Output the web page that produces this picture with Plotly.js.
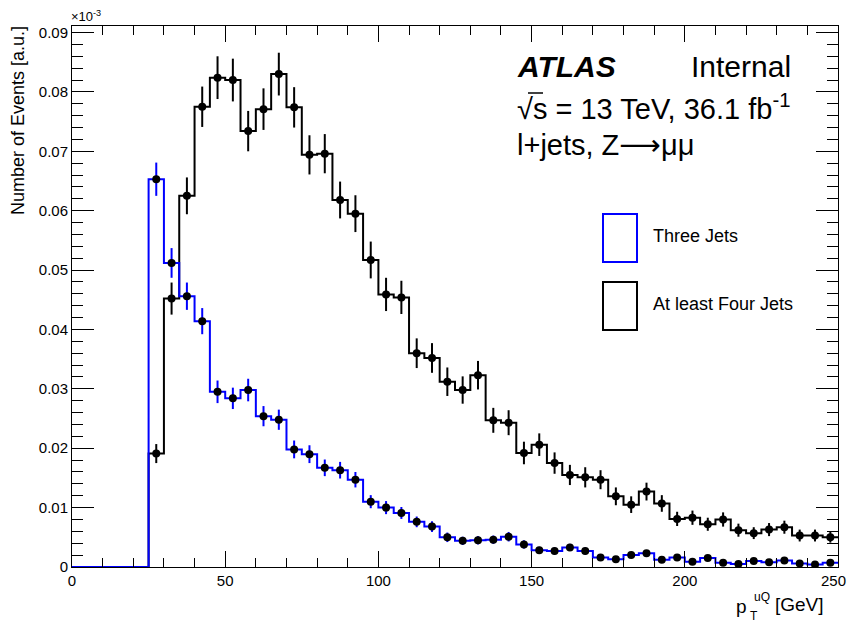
<!DOCTYPE html>
<html>
<head>
<meta charset="utf-8">
<script src="https://cdn.plot.ly/plotly-3.0.1.min.js"></script>
<style>html,body{margin:0;padding:0;background:#fff;}#plot{width:848px;height:626px;}</style>
</head>
<body>
<div id="plot"></div>
<script>
// bin centres (GeV), bin width 5 GeV
const binCenters = [27.5,32.5,37.5,42.5,47.5,52.5,57.5,62.5,67.5,72.5,77.5,82.5,87.5,92.5,97.5,102.5,107.5,112.5,117.5,122.5,127.5,132.5,137.5,142.5,147.5,152.5,157.5,162.5,167.5,172.5,177.5,182.5,187.5,192.5,197.5,202.5,207.5,212.5,217.5,222.5,227.5,232.5,237.5,242.5,247.5];
const binWidth = 5;
const xMin = 0, xMax = 250;

const fourJets = [0.0191,0.0452,0.0625,0.0775,0.0824,0.0820,0.0734,0.0771,0.0830,0.0774,0.0694,0.0696,0.0618,0.0595,0.0517,0.0459,0.0454,0.0360,0.0352,0.0312,0.0298,0.0323,0.0247,0.0243,0.0192,0.0206,0.0175,0.0155,0.0151,0.0147,0.0119,0.0105,0.0127,0.0107,0.0081,0.0083,0.0072,0.0080,0.0062,0.0057,0.0063,0.0067,0.0053,0.0053,0.0050];
const fourJetsErr = [0.0016,0.0027,0.0031,0.0034,0.0036,0.0036,0.0034,0.0035,0.0036,0.0034,0.0033,0.0033,0.0031,0.0031,0.0031,0.0028,0.0028,0.0025,0.0025,0.0024,0.0023,0.0024,0.0021,0.0021,0.0019,0.0019,0.0018,0.0017,0.0017,0.0016,0.0015,0.0014,0.0015,0.0014,0.0012,0.0012,0.0011,0.0012,0.0011,0.0010,0.0011,0.0011,0.0010,0.0010,0.0009];

const threeJets = [0.0653,0.0512,0.0456,0.0414,0.0295,0.0284,0.0298,0.0254,0.0248,0.0198,0.0190,0.0167,0.0163,0.0147,0.0110,0.0100,0.0091,0.0076,0.0068,0.0050,0.0044,0.0045,0.0046,0.0051,0.0038,0.0028,0.0027,0.0033,0.0027,0.0016,0.0013,0.0020,0.0023,0.0012,0.0016,0.0009,0.0015,0.0007,0.0005,0.0010,0.0008,0.0011,0.0006,0.0004,0.0007];
const threeJetsErr = [0.0028,0.0025,0.0023,0.0022,0.0019,0.0018,0.0019,0.0017,0.0017,0.0015,0.0015,0.0014,0.0014,0.0013,0.0011,0.0011,0.0010,0.0009,0.0009,0.0008,0.0007,0.0007,0.0007,0.0008,0.0007,0.0006,0.0006,0.0006,0.0006,0.0004,0.0004,0.0005,0.0005,0.0004,0.0004,0.0003,0.0004,0.0003,0.0002,0.0003,0.0003,0.0004,0.0003,0.0002,0.0003];

const yTickVals = [0,0.01,0.02,0.03,0.04,0.05,0.06,0.07,0.08,0.09];
const yTickText = ["0","0.01","0.02","0.03","0.04","0.05","0.06","0.07","0.08","0.09"];
const xTickVals = [0,50,100,150,200,250];
const xTickText = ["0","50","100","150","200","250"];

const labelThree = "Three Jets";
const labelFour = "At least Four Jets";

function stepX(){
  const xs = [xMin];
  binCenters.forEach(c => xs.push(c - binWidth/2));
  xs.push(xMax);
  return xs;
}
function stepY(vals){
  return [0].concat(vals, [vals[vals.length-1]]);
}

const F = "Liberation Sans, Arial, Helvetica, sans-serif";
const BLUE = "#0000ff";

const traces = [
  {x: stepX(), y: stepY(fourJets), mode: "lines", line: {shape: "hv", color: "#000", width: 2}, hoverinfo: "skip", showlegend: false},
  {x: stepX(), y: stepY(threeJets), mode: "lines", line: {shape: "hv", color: BLUE, width: 2}, hoverinfo: "skip", showlegend: false},
  {x: binCenters, y: fourJets, mode: "markers", marker: {color: "#000", size: 8},
   error_y: {type: "data", array: fourJetsErr, visible: true, color: "#000", thickness: 2, width: 0}, showlegend: false},
  {x: binCenters, y: threeJets, mode: "markers", marker: {color: "#000", size: 8},
   error_y: {type: "data", array: threeJetsErr, visible: true, color: BLUE, thickness: 2, width: 0}, showlegend: false}
];

const plotL = 72, plotR = 838, plotT = 26, plotB = 567;
const W = plotR - plotL, H = plotB - plotT;
function px(x){ return (x - plotL)/W; }
function py(y){ return (plotB - y)/H; }

// last x tick label is drawn as an annotation so it stays inside the page
const shownXText = xTickText.map((t, i) => i === xTickText.length - 1 ? "" : t);

const layout = {
  width: 848, height: 626,
  margin: {l: plotL, r: 848 - plotR, t: plotT, b: 626 - plotB, pad: 0},
  paper_bgcolor: "#fff", plot_bgcolor: "#fff",
  font: {family: F, size: 15, color: "#000"},
  showlegend: false,
  xaxis: {
    range: [xMin, xMax + 0.001], showgrid: false, zeroline: false,
    showline: true, linecolor: "#000", linewidth: 1, mirror: "ticks",
    ticks: "inside", ticklen: 16, tickcolor: "#000", tickwidth: 1,
    tickvals: xTickVals, ticktext: shownXText,
    tickfont: {family: F, size: 15, color: "#000"},
    minor: {dtick: 10, ticks: "inside", ticklen: 9, tickcolor: "#000", tickwidth: 1, showgrid: false}
  },
  yaxis: {
    range: [0, 0.0911], showgrid: false, zeroline: false,
    showline: true, linecolor: "#000", linewidth: 1, mirror: "ticks",
    ticks: "inside", ticklen: 22, tickcolor: "#000", tickwidth: 1,
    tickvals: yTickVals, ticktext: yTickText,
    tickfont: {family: F, size: 15, color: "#000"},
    minor: {dtick: 0.002, ticks: "inside", ticklen: 11, tickcolor: "#000", tickwidth: 1, showgrid: false}
  },
  shapes: [
    {type: "rect", xref: "paper", yref: "paper", x0: px(603), x1: px(637), y0: py(262), y1: py(214), line: {color: BLUE, width: 2}, fillcolor: "rgba(0,0,0,0)"},
    {type: "rect", xref: "paper", yref: "paper", x0: px(603), x1: px(637), y0: py(330), y1: py(282), line: {color: "#000", width: 2}, fillcolor: "rgba(0,0,0,0)"},
    {type: "line", xref: "paper", yref: "paper", x0: px(528), x1: px(543), y0: py(93), y1: py(93), line: {color: "#000", width: 1.5}}
  ],
  annotations: [
    {xref: "x", yref: "paper", x: xTickVals[xTickVals.length - 1], y: py(570), text: xTickText[xTickText.length - 1], showarrow: false, xanchor: "right", yanchor: "top", xshift: 10, font: {family: F, size: 15, color: "#000"}},
    {xref: "paper", yref: "paper", x: px(18), y: py(121), text: "Number of Events [a.u.]", textangle: -90, showarrow: false, xanchor: "center", yanchor: "middle", font: {family: F, size: 18, color: "#000"}},
    {xref: "paper", yref: "paper", x: px(69), y: py(16), text: "×10<sup>-3</sup>", showarrow: false, xanchor: "left", yanchor: "middle", font: {family: F, size: 13, color: "#000"}},
    {xref: "paper", yref: "paper", x: px(749), y: py(606), text: "p", showarrow: false, xanchor: "right", yanchor: "middle", font: {family: F, size: 19, color: "#000"}},
    {xref: "paper", yref: "paper", x: px(752), y: py(597), text: "uQ", showarrow: false, xanchor: "left", yanchor: "middle", font: {family: F, size: 12, color: "#000"}},
    {xref: "paper", yref: "paper", x: px(748), y: py(616), text: "T", showarrow: false, xanchor: "left", yanchor: "middle", font: {family: F, size: 12, color: "#000"}},
    {xref: "paper", yref: "paper", x: px(826), y: py(604), text: "[GeV]", showarrow: false, xanchor: "right", yanchor: "middle", font: {family: F, size: 19, color: "#000"}},
    {xref: "paper", yref: "paper", x: px(515), y: py(66), text: "<b><i>ATLAS</i></b>", showarrow: false, xanchor: "left", yanchor: "middle", font: {family: F, size: 30, color: "#000"}},
    {xref: "paper", yref: "paper", x: px(689), y: py(66), text: "Internal", showarrow: false, xanchor: "left", yanchor: "middle", font: {family: F, size: 30, color: "#000"}},
    {xref: "paper", yref: "paper", x: px(515), y: py(107), text: "√s = 13 TeV, 36.1 fb<sup>-1</sup>", showarrow: false, xanchor: "left", yanchor: "middle", font: {family: F, size: 29, color: "#000"}},
    {xref: "paper", yref: "paper", x: px(515), y: py(145), text: "l+jets, Z<span style=\"font-family:'DejaVu Sans'\">⟶</span>μμ", showarrow: false, xanchor: "left", yanchor: "middle", font: {family: F, size: 29, color: "#000"}},
    {xref: "paper", yref: "paper", x: px(651), y: py(236), text: labelThree, showarrow: false, xanchor: "left", yanchor: "middle", font: {family: F, size: 18, color: "#000"}},
    {xref: "paper", yref: "paper", x: px(651), y: py(304), text: labelFour, showarrow: false, xanchor: "left", yanchor: "middle", font: {family: F, size: 18, color: "#000"}}
  ]
};

Plotly.newPlot("plot", traces, layout, {displayModeBar: false, staticPlot: true});
</script>
</body>
</html>
